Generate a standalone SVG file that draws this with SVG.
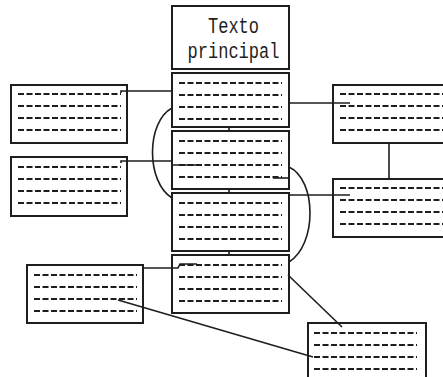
<svg xmlns="http://www.w3.org/2000/svg" width="443" height="377" viewBox="0 0 443 377">
  <style>
    .box { fill: #ffffff; stroke: #1e1e1e; stroke-width: 2; }
    .row { stroke: #1e1e1e; stroke-width: 2; stroke-dasharray: 6 2.5; fill: none; }
    .wire { stroke: #1e1e1e; stroke-width: 1.6; fill: none; }
    .title { font-family: "Liberation Mono", "DejaVu Sans Mono", monospace; font-size: 17px; fill: #1e1e1e; text-anchor: middle; }
  </style>
  <defs>
    <!-- four placeholder text lines for a block -->
    <g id="rows-main">
      <line class="row" x1="179" y1="0" x2="282" y2="0"/>
      <line class="row" x1="179" y1="12" x2="282" y2="12"/>
      <line class="row" x1="179" y1="24" x2="282" y2="24"/>
      <line class="row" x1="179" y1="36" x2="282" y2="36"/>
    </g>
  </defs>

  <rect width="443" height="377" fill="#ffffff"/>

  <!-- main column -->
  <g id="title">
    <rect class="box" x="172" y="6" width="117" height="63"/>
    <text class="title" transform="translate(233.5,33) scale(1,1.25)">Texto</text>
    <text class="title" transform="translate(233.5,58) scale(1,1.25)">principal</text>
  </g>
  <g id="block-1">
    <rect class="box" x="172" y="73" width="117" height="54"/>
    <use href="#rows-main" y="83"/>
  </g>
  <g id="block-2">
    <rect class="box" x="172" y="131" width="117" height="58"/>
    <use href="#rows-main" y="141"/>
  </g>
  <g id="block-3">
    <rect class="box" x="172" y="193" width="117" height="58"/>
    <use href="#rows-main" y="203"/>
  </g>
  <g id="block-4">
    <rect class="box" x="172" y="255" width="117" height="58"/>
    <use href="#rows-main" y="265"/>
  </g>

  <!-- side notes -->
  <g id="note-left-1">
    <rect class="box" x="11" y="85" width="116" height="58"/>
    <use href="#rows-main" x="-161" y="94"/>
  </g>
  <g id="note-left-2">
    <rect class="box" x="11" y="157" width="116" height="59"/>
    <use href="#rows-main" x="-161" y="167"/>
  </g>
  <g id="note-right-1">
    <rect class="box" x="333" y="85" width="120" height="58"/>
    <use href="#rows-main" x="161" y="94"/>
  </g>
  <g id="note-right-2">
    <rect class="box" x="333" y="179" width="120" height="58"/>
    <use href="#rows-main" x="161" y="188"/>
  </g>
  <g id="note-lower-left">
    <rect class="box" x="27" y="265" width="116" height="58"/>
    <use href="#rows-main" x="-145" y="275"/>
  </g>
  <g id="note-lower-right">
    <rect class="box" x="308" y="323" width="118" height="60"/>
    <use href="#rows-main" x="135" y="333"/>
  </g>

  <!-- connectors, drawn last so their ends show inside the blocks -->
  <g id="connectors">
    <!-- short joins down the main column -->
    <line class="wire" x1="229" y1="127" x2="229" y2="131"/>
    <line class="wire" x1="229" y1="189" x2="229" y2="193"/>
    <line class="wire" x1="229" y1="251" x2="229" y2="255"/>
    <!-- left side notes -->
    <polyline class="wire" points="121,93 121,91 172,91"/>
    <polyline class="wire" points="121,163 121,161 172,161 172,165 197,165"/>
    <!-- right side notes -->
    <polyline class="wire" points="289,103 350,103"/>
    <line class="wire" x1="389" y1="143" x2="389" y2="179"/>
    <polyline class="wire" points="289,195 350,195"/>
    <!-- lower notes -->
    <polyline class="wire" points="143,268 178,268 180,264 197,264"/>
    <line class="wire" x1="118" y1="300" x2="313" y2="357"/>
    <line class="wire" x1="288" y1="275" x2="342" y2="327"/>
    <line class="wire" x1="273" y1="178" x2="289" y2="178"/>
    <!-- curved links between column blocks -->
    <path class="wire" d="M172,108 C146,122 146,182 172,198"/>
    <path class="wire" d="M289,167 C317,180 317,245 289,262"/>
  </g>
</svg>
